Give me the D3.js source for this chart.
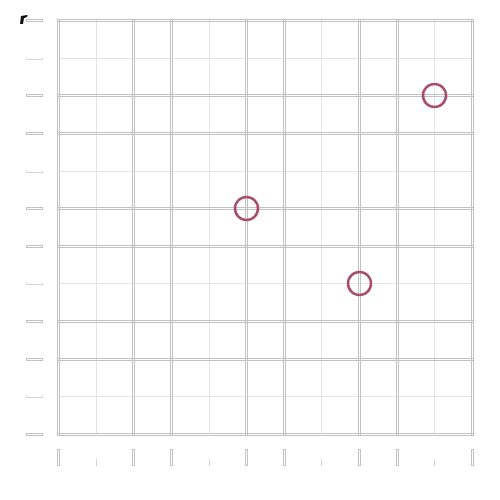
<!DOCTYPE html>
<html><head><meta charset="utf-8">
<script src="https://cdn.jsdelivr.net/npm/d3@7"></script>
<style>body{margin:0;background:#fff}svg{display:block}</style>
</head><body>
<script>
const xDomain = [0, 11];
const yDomain = [0, 11];
const majorTicks = [0, 2, 3, 5, 6, 8, 9, 11];
const minorTicks = [1, 4, 7, 10];
const pointsX = [5, 8, 10];
const pointsY = [6, 4, 9];

const W = 500, H = 500;
const svg = d3.select("body").append("svg").attr("width", W).attr("height", H);
const x = d3.scaleLinear().domain(xDomain).range([58, 472]);
const y = d3.scaleLinear().domain(yDomain).range([434, 20]);
const px = t => Math.round(x(t));
const py = t => Math.round(y(t));
const GRID = "#c2c2c2";

const g = svg.append("g");
// minor grid lines (single, light)
minorTicks.forEach(t => {
  g.append("line").attr("x1", px(t) + 0.5).attr("x2", px(t) + 0.5).attr("y1", py(11)).attr("y2", py(0))
    .attr("stroke", "#e4e4e4").attr("stroke-width", 1);
  g.append("line").attr("y1", py(t) + 0.5).attr("y2", py(t) + 0.5).attr("x1", px(0)).attr("x2", px(11))
    .attr("stroke", "#e4e4e4").attr("stroke-width", 1);
});
// major grid lines (double)
majorTicks.forEach(t => {
  g.append("rect").attr("x", px(t) - 0.5).attr("y", py(11) - 0.5).attr("width", 2).attr("height", py(0) - py(11) + 2)
    .attr("fill", "#fff").attr("stroke", GRID).attr("stroke-width", 1);
});
majorTicks.forEach(t => {
  g.append("rect").attr("x", px(0) - 0.5).attr("y", py(t) - 0.5).attr("width", px(11) - px(0) + 2).attr("height", 2)
    .attr("fill", "none").attr("stroke", GRID).attr("stroke-width", 1);
});

// left ticks
majorTicks.forEach(t => {
  svg.append("rect").attr("x", 26.5).attr("y", py(t) - 0.5).attr("width", 16).attr("height", 2)
    .attr("fill", "#fff").attr("stroke", GRID).attr("stroke-width", 1);
});
minorTicks.forEach(t => {
  svg.append("path").attr("d", `M26.5,${py(t) - 0.5}V${py(t) + 1.5}H42.5V${py(t) - 0.5}`)
    .attr("fill", "none").attr("stroke", "#d4d4d4").attr("stroke-width", 1);
});
// bottom ticks
majorTicks.forEach(t => {
  svg.append("rect").attr("x", px(t) - 0.5).attr("y", 449.5).attr("width", 2).attr("height", 16)
    .attr("fill", "#fff").attr("stroke", GRID).attr("stroke-width", 1);
});
minorTicks.forEach(t => {
  svg.append("line").attr("x1", px(t) + 0.5).attr("x2", px(t) + 0.5).attr("y1", 459).attr("y2", 466)
    .attr("stroke", "#d4d4d4").attr("stroke-width", 1);
});

// small dark mark at top-left
svg.append("path").attr("d", "M21,16 L27,15 L28,16 L25,18 L24,18 L23,24 L20,24 Z").attr("fill", "#111");

// points
svg.append("g").selectAll("circle").data(pointsX.map((v, i) => [v, pointsY[i]])).join("circle")
  .attr("cx", d => px(d[0]) + 0.5).attr("cy", d => py(d[1]) + 0.5).attr("r", 11.5)
  .attr("fill", "none").attr("stroke", "#a84e6c").attr("stroke-width", 2.6);
</script>
</body></html>
